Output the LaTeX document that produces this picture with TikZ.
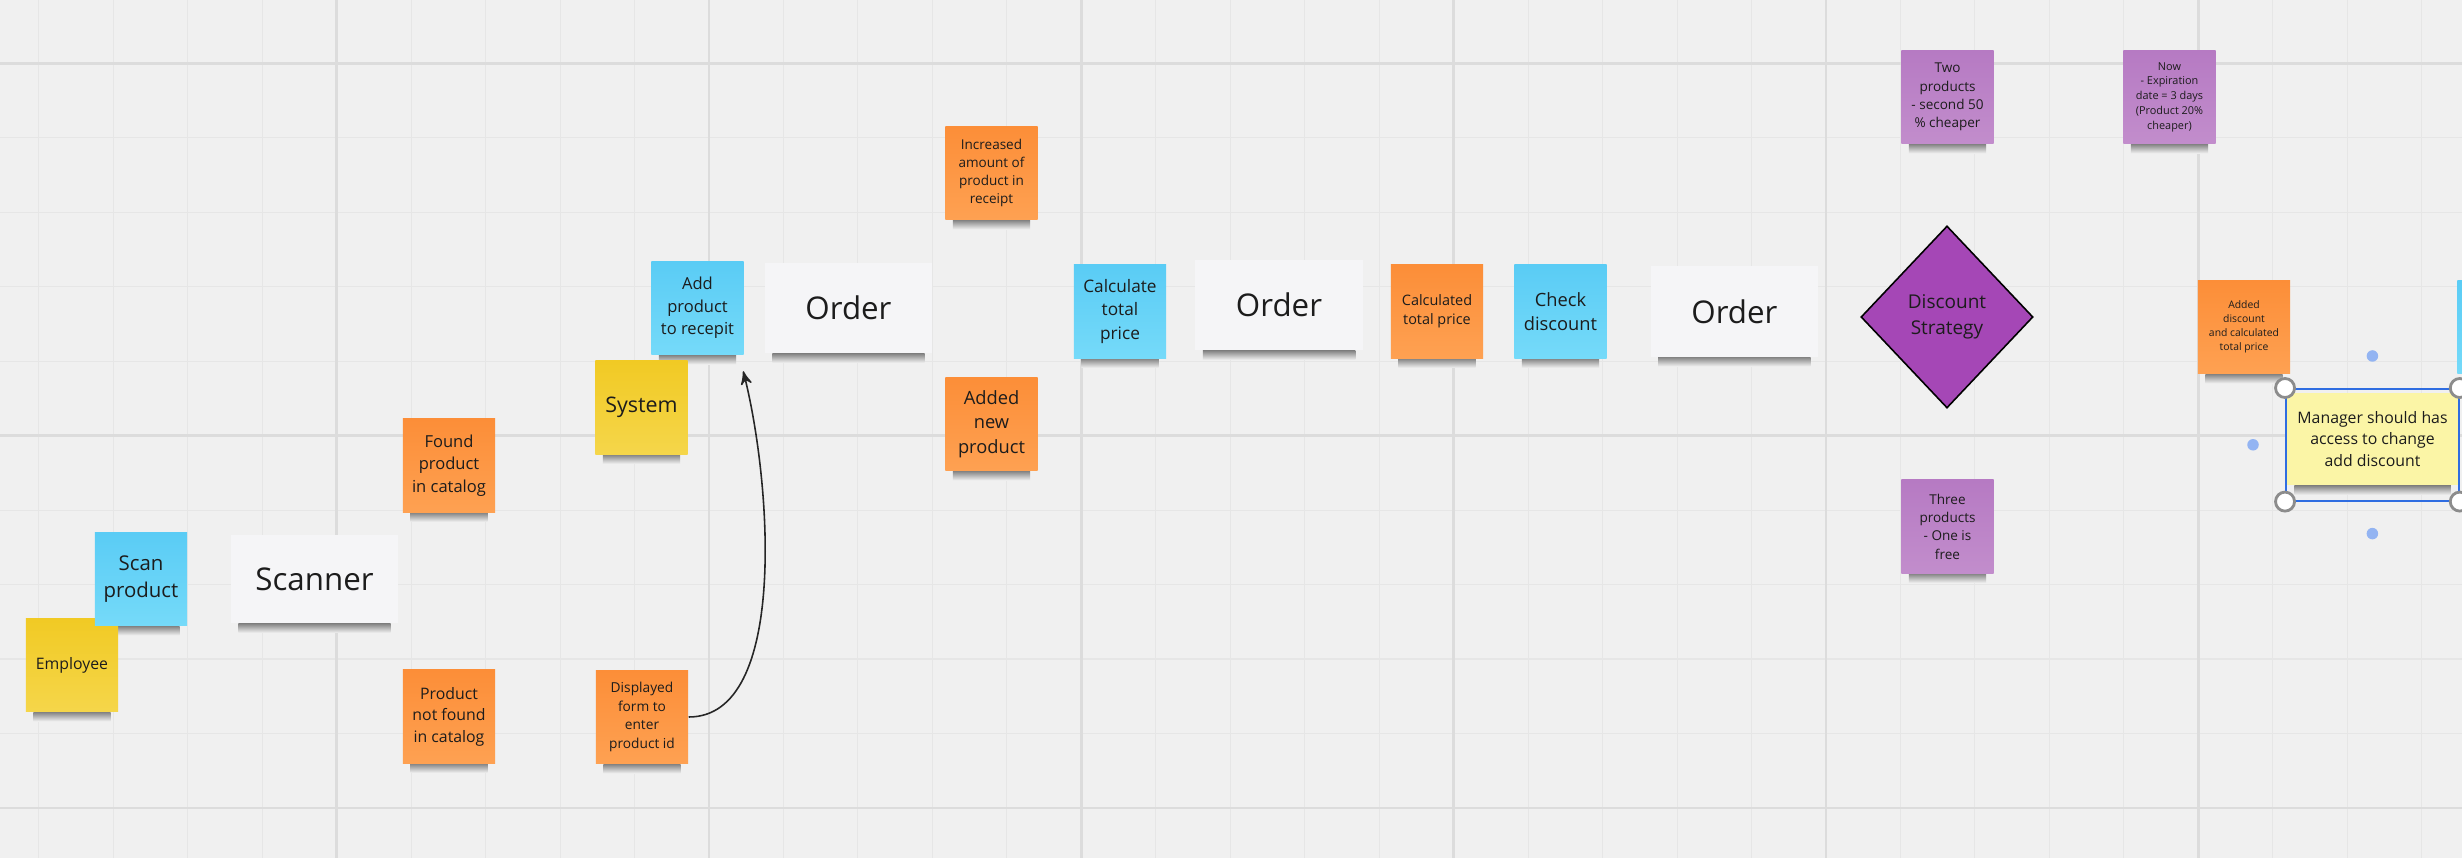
\documentclass[tikz,border=0pt]{standalone}
\usepackage{fontspec}
\setmainfont{Open Sans}
\usepackage{tikz}
\usetikzlibrary{arrows,positioning,shapes.geometric}

\definecolor{board}{HTML}{F0F0F0}
\definecolor{gridminor}{HTML}{E6E6E6}
\definecolor{gridmajor}{HTML}{DCDCDC}
\definecolor{ink}{HTML}{1C1C1C}
\definecolor{yellowtop}{HTML}{F1CA24}
\definecolor{yellowbot}{HTML}{F5D64A}
\definecolor{bluetop}{HTML}{5ACCF5}
\definecolor{bluebot}{HTML}{75DAF9}
\definecolor{orangetop}{HTML}{FC8E38}
\definecolor{orangebot}{HTML}{FEA152}
\definecolor{purpletop}{HTML}{B67AC3}
\definecolor{purplebot}{HTML}{C28DCC}
\definecolor{cardwhite}{HTML}{F5F5F7}
\definecolor{strategy}{HTML}{A547B6}
\definecolor{lightnote}{HTML}{FBF5A6}
\definecolor{shadowgray}{HTML}{858585}
\definecolor{selblue}{HTML}{2F6DE1}
\definecolor{handlegray}{HTML}{8C8C8C}
\definecolor{dotblue}{HTML}{93B4F2}

\pgfdeclarelayer{boardlayer}
\pgfdeclarelayer{shadowlayer}
\pgfsetlayers{boardlayer,shadowlayer,main}

\begin{document}
\begin{tikzpicture}[x=0.01cm,y=-0.01cm,>=stealth',
    note/.style={rectangle,inner sep=0pt,minimum width=0.92cm,minimum height=0.93cm,align=center,text=ink},
    yellow note/.style={note,top color=yellowtop,bottom color=yellowbot},
    blue note/.style={note,top color=bluetop,bottom color=bluebot},
    orange note/.style={note,top color=orangetop,bottom color=orangebot},
    purple note/.style={note,top color=purpletop,bottom color=purplebot},
    card/.style={rectangle,inner sep=0pt,minimum width=1.67cm,minimum height=0.9cm,fill=cardwhite,text=ink,font=\fontsize{8.9}{11}\selectfont},
    sel handle/.style={circle,draw=handlegray,line width=0.8pt,fill=white,inner sep=0pt,minimum size=0.19cm},
    sel dot/.style={circle,fill=dotblue,inner sep=0pt,minimum size=0.115cm}]

  \useasboundingbox (0,0) rectangle (2462,858);
  \clip (0,0) rectangle (2462,858);

  % board with grid
  \begin{pgfonlayer}{boardlayer}
    \fill[board] (0,0) rectangle (2462,858);
    \foreach \i in {0,...,32}
      \draw[gridminor,line width=0.3pt] (38.9+\i*74.46,0) -- ++(0,858);
    \foreach \i in {0,...,10}
      \draw[gridminor,line width=0.3pt] (0,63.3+\i*74.46) -- ++(2462,0);
    \foreach \i in {4,9,...,29}
      \draw[gridmajor,line width=0.75pt] (38.9+\i*74.46,0) -- ++(0,858);
    \foreach \i in {0,5,10}
      \draw[gridmajor,line width=0.75pt] (0,63.3+\i*74.46) -- ++(2462,0);
  \end{pgfonlayer}

  \node[yellow note,font=\fontsize{4.5}{6}\selectfont] (employee) at (72,665) {Employee};
  \node[blue note,font=\fontsize{5.8}{7.8}\selectfont] (scan) at (141,579) {Scan\\product};
  \node[card,minimum height=0.88cm] (scanner) at (314.5,579) {Scanner};
  \node[orange note,font=\fontsize{4.7}{6.4}\selectfont] (found) at (449,465.5) {Found\\product\\in catalog};
  \node[orange note,font=\fontsize{4.5}{6.1}\selectfont] (notfound) at (449,716.5) {Product\\not found\\in catalog};
  \node[yellow note,font=\fontsize{6.1}{8.2}\selectfont] (system) at (641.5,407.5) {System};
  \node[orange note,font=\fontsize{3.9}{5.3}\selectfont] (form) at (642,717) {Displayed\\form to\\enter\\product id};
  \node[blue note,font=\fontsize{4.7}{6.4}\selectfont] (add) at (697.5,308) {Add\\product\\to recepit};
  \node[card,right=0.2cm of add] (order1) {Order};
  \node[orange note,font=\fontsize{3.85}{5.2}\selectfont] (increased) at (991.5,173) {Increased\\amount of\\product in\\receipt};
  \node[orange note,font=\fontsize{5.2}{7}\selectfont] (addednew) at (991.5,424) {Added\\new\\product};
  \node[blue note,font=\fontsize{4.9}{6.6}\selectfont] (calc) at (1120,311.5) {Calculate\\total\\price};
  \node[card] (order2) at (1279,305) {Order};
  \node[orange note,font=\fontsize{4.1}{5.5}\selectfont] (calced) at (1437,311.5) {Calculated\\total price};
  \node[blue note,font=\fontsize{5.2}{7}\selectfont,right=0.3cm of calced] (check) {Check\\discount};
  \node[card,right=0.43cm of check] (order3) {Order};
  \node[diamond,draw=black,line width=0.45pt,fill=strategy,inner sep=0pt,minimum width=1.72cm,minimum height=1.82cm,
        align=center,text=ink,font=\fontsize{5.4}{7.3}\selectfont] (strategy) at (1947,317) {Discount\\Strategy};
  \node[purple note,font=\fontsize{3.85}{5.2}\selectfont] (twoprod) at (1947.5,97) {Two\\products\\- second 50\\\% cheaper};
  \node[purple note,font=\fontsize{3.1}{4.2}\selectfont] (expiry) at (2169.5,97) {Now\\- Expiration\\date = 3 days\\(Product 20\%\\cheaper)};
  \node[purple note,font=\fontsize{3.85}{5.2}\selectfont] (threeprod) at (1947.5,526.5) {Three\\products\\- One is\\free};
  \node[orange note,font=\fontsize{2.95}{4}\selectfont] (addeddisc) at (2244,327) {Added\\discount\\and calculated\\total price};
  \node[blue note] (nextcmd) at (2503.5,327) {};
  \node[note,fill=lightnote,minimum width=1.71cm,minimum height=0.92cm,font=\fontsize{4.5}{6.1}\selectfont] (manager) at (2372.5,439)
    {Manager should has\\access to change\\add discount};

  % shadows under the notes
  \begin{pgfonlayer}{shadowlayer}
    \foreach \n in {employee,scan,scanner,found,notfound,system,form,add,order1,increased,addednew,
                    calc,order2,calced,check,order3,twoprod,expiry,threeprod,addeddisc,manager}
      \shade[top color=shadowgray,bottom color=board] ([xshift=0.08cm]\n.south west) rectangle ([xshift=-0.08cm,yshift=-0.09cm]\n.south east);
  \end{pgfonlayer}

  % selection frame
  \node[draw=selblue,line width=0.55pt,inner sep=0pt,minimum width=1.727cm,minimum height=1.116cm] (selection) at (2372.4,444.8) {};
  \foreach \c [count=\k] in {north west,north east,south west,south east}
    \node[sel handle] (handle\k) at (selection.\c) {};
  \node[sel dot] (dottop) at ([yshift=0.32cm]selection.north) {};
  \node[sel dot] (dotleft) at ([xshift=-0.32cm]selection.west) {};
  \node[sel dot] (dotbottom) at ([yshift=-0.32cm]selection.south) {};

  \coordinate (addin) at ([xshift=-0.01cm,yshift=-0.16cm]add.south east);
  \draw[->,line width=0.45pt,black!85] (form.east) .. controls +(100,0) and +(28,110) .. (addin);

\end{tikzpicture}
\end{document}
